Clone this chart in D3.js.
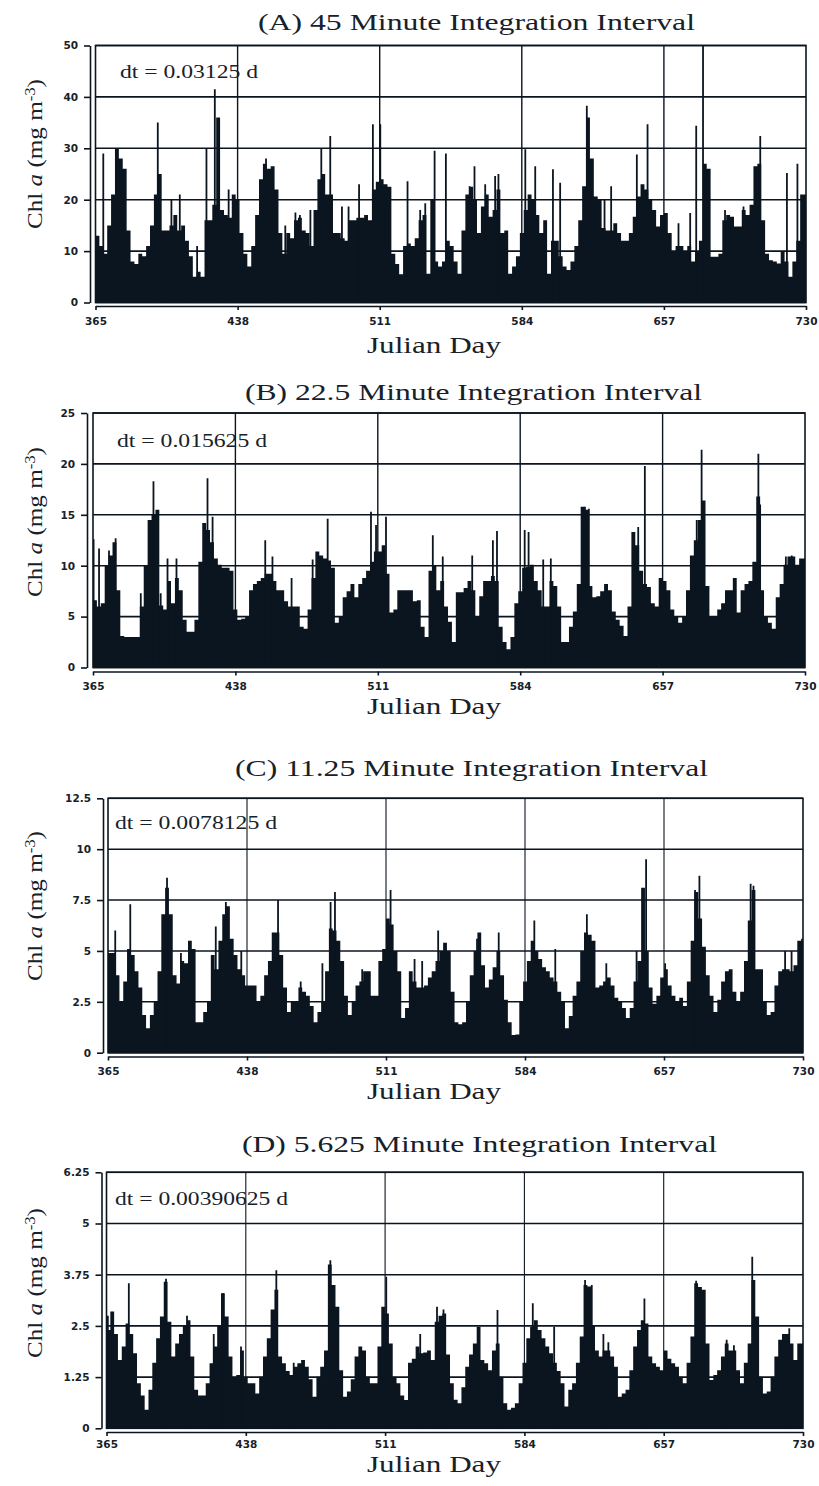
<!DOCTYPE html>
<html>
<head>
<meta charset="utf-8">
<script src="https://cdn.jsdelivr.net/npm/d3@7"></script>
<style>
  html, body { margin: 0; padding: 0; background: #fff; }
  svg { display: block; }
</style>
</head>
<body>
<svg id="chart" width="819" height="1486"></svg>
<script>
// ---------------- DATA ----------------
const xTicks = [365, 438, 511, 584, 657, 730];
const binStart = 365;   // first day of the step series
const binDays = 2;      // days per step

const yTicksA = [0, 10, 20, 30, 40, 50];
const yTicksB = [0, 5, 10, 15, 20, 25];
const yTicksC = [0, 2.5, 5, 7.5, 10, 12.5];
const yTicksD = [0, 1.25, 2.5, 3.75, 5, 6.25];

const titles = [
  "(A) 45 Minute Integration Interval",
  "(B) 22.5 Minute Integration Interval",
  "(C) 11.25 Minute Integration Interval",
  "(D) 5.625 Minute Integration Interval"
];
const dtLabels = ["dt = 0.03125 d", "dt = 0.015625 d", "dt = 0.0078125 d", "dt = 0.00390625 d"];

// Chl a (mg m-3), one value per 2-day step starting day 365
const chlA = [13,11,9.5,15,21,30,28,26,14,8,
  7.5,9.5,9,11,15,21,25,14,14,15,
  17,14,15,12,9,5,6,5,16,16,
  19,36,18,17,16.5,21,20,13.5,9.5,7,
  11,17,24,27,26,26.5,22,13.5,9.5,13.5,
  12.5,16,16.5,14,13.5,11,18,24,25,21,
  21,13.5,13.5,12.5,12,16,16,16.5,16.5,17,
  16,22,23.5,24,23,22.5,9.5,7.5,5.5,11,
  11.5,11,12.5,16,17,5.6,20,8,7,8,12,
  11,8,5.6,14,21,22.5,20,13.5,18.7,21,
  16.7,18,22,13.5,14,5.6,7,9,13.5,18,
  21,20,17,13.5,16,5.6,12,12,9,7,
  6.3,8,11,16,22.6,36,28,20.6,20,14.5,
  14,14,15.4,13.5,12,12,13.5,16.7,20.6,23,
  22,20,18,14.8,17,17.4,13.5,10,11,11,
  10,11,8,10,12,27,26,8.9,8.9,9.5,
  16,17,16.7,14.8,14.8,18,17,19,26.5,27,
  16,9.5,8.2,8,7.6,10,8,5,8,12,
  21,21];

const chlB = [6.6,6,6.3,10,11,12.3,7.6,3.1,3,3,
  3,3,6,10,14.5,15,15.5,6.1,5.7,8.5,
  6.3,8.8,7.6,4.7,3.5,3.5,4.7,10.4,14.2,13.5,
  12.3,10.7,10.1,9.8,9.8,9.5,5.7,4.7,4.8,5,
  7.6,8.2,8.5,8.8,9.2,9.2,8.5,7.6,7.6,6.5,
  6,6,6,4,3.8,5.7,8.8,11.4,11,10.7,
  10.5,9.8,4.4,5,6.9,7.5,8.2,6.9,8.2,8.8,
  9.5,10.4,11.4,11.4,12,9.2,5.4,5.7,7.6,7.6,
  7.6,7.6,6.5,6.6,4,3,9.5,10,7.6,8.5,6,
  4.5,2.5,7.4,7.4,7.8,8.5,7.6,5,7,8.5,
  8.5,9,8.5,4,2.5,1.8,3,6.3,7.5,9.8,
  9.9,10.1,8.5,7.6,6,6,8.5,8,6,2.5,
  2.5,4,5.5,8.2,15.8,15.5,8,6.9,7,7.5,
  8.2,7.6,5.5,4.7,4.1,3.1,6,13.3,12,9.5,
  8.2,7.9,6.3,6,8.8,8.5,7.6,5.7,5,4.4,
  5,7.6,11,12.5,14.5,16.4,8,5,5,5.7,
  6.3,7.6,7.6,8.8,5.4,7.6,8.2,8.5,10.4,16.8,
  7.6,5,4.4,3.8,6.9,8.2,10.1,10.9,10.9,10.1,
  10.7,10.7];

const chlC = [4.9,4.9,3.8,2.5,3.5,5.1,4.8,4,3.2,1.85,
  1.2,1.85,2.5,4,6.8,8.1,6.8,3.8,3.4,4.5,
  4.4,5.5,5.1,1.5,1.5,2,2.5,4.8,4.1,5.5,
  6.8,7.2,5.6,4.8,4.1,3.8,3.3,3.3,3.3,2.5,
  2.8,3.8,4.5,5.9,5.9,4.8,3.2,2,2.5,2.5,
  3.2,3,2.8,2.3,1.5,2,2.5,4,6.1,6,
  5.5,4.5,2.8,1.85,2.5,3.3,3.5,4,4,2.8,
  2.8,4.5,5.1,6.6,6.3,5,4,1.7,2.2,
  4,3.5,3.2,3.2,3.3,3.7,4,4.5,5,5.4,
  5,3,1.5,1.4,1.5,2.5,3.8,5,5.9,4.3,
  3.2,3.6,4.2,5,3.8,2.6,1.5,0.87,0.9,2.5,
  3.5,4.5,5.5,5,4.6,4.2,4,3.7,3.5,3,
  2.5,1.2,1.8,2.8,3.5,5,5.9,5.8,5.5,3.2,
  3.3,3.5,3.7,3.3,2.7,2.5,2.2,1.7,2.2,3.5,
  4.5,8.1,5,3.2,2.4,2.8,3.7,4.1,3.3,2.8,
  2.5,2.7,2.3,3.5,5.5,7.9,6.6,5.2,3.8,2.8,
  2,2.6,3.5,4,4.1,3,2.5,3,4.5,6.5,
  8,4.1,4.1,2.5,1.85,2,3.3,4,4.1,4.1,
  4,4.3,5.5,5.5];

const chlD = [2.4,2.85,2.3,1.67,2,2.56,2.3,1.83,1.1,0.8,
  0.45,0.94,1.6,2.2,2.73,3.58,2.6,1.75,2.07,2.3,
  2.5,2.64,1.75,0.94,0.8,0.8,1.1,1.59,2,2.5,
  3.3,2.73,1.75,1.26,1.3,1.9,1.26,1.1,1.1,0.85,
  1.26,1.75,2.2,2.9,3.38,1.75,1.59,1.4,1.3,1.5,
  1.59,1.67,1.5,1.2,0.77,1.26,1.5,1.9,4,3.5,
  2.97,1.42,0.77,0.9,1.2,1.75,2,1.9,1.26,1.1,
  1.1,2,2.97,2.8,2.07,1.26,1.1,0.8,0.69,
  1.6,1.7,2,1.83,1.85,1.9,1.67,2.6,2.75,2.8,
  1.8,1.1,0.7,0.61,1,1.5,1.8,2.07,2.48,1.67,
  1.59,1.42,1.9,2.07,1.26,0.61,0.45,0.5,0.61,1.1,
  1.6,2.2,2.48,2.64,2.4,2.2,2,1.83,1.6,1.4,
  1.1,0.53,0.94,1.1,1.6,2.24,3.5,3.46,2.5,1.9,
  1.75,1.9,1.9,1.75,1.5,0.77,0.85,0.94,1.42,2,
  2.4,2.64,2.56,1.75,1.59,1.5,1.42,1.9,1.7,1.59,
  1.5,1.26,1.1,1.6,2.24,3.54,3.45,3.38,2.07,1.18,
  1.3,1.42,1.75,2.07,1.9,1.9,1.42,1.1,1.6,2.07,
  3.62,2.73,1.26,0.85,0.9,1.26,1.75,2.16,2.3,2.3,
  2.07,1.67,2.07,2.07];

// short-lived spikes: [day, Chl a]
const spikesA = [[369,29],[397,35],[404,20],[408.3,21],[417.2,11],[422,30],[426.3,41.5],[433.4,22],[452.6,28],[462.5,15],[467.7,17.5],[470,17],[475.4,18],[481,30],[485.6,32.4],[491.6,18.7],[495,18.7],[500.4,23],[507.5,34.7],[511.3,34.7],[525.3,23.6],[531.8,18],[534.4,19.3],[539.2,29.5],[545,29],[557.2,22.6],[559.7,26.5],[565.2,23],[570.3,24.6],[572,25],[585.8,29.8],[590.9,26.5],[600,25.9],[603.7,23.3],[617.4,38.3],[626.5,20],[629.9,22.6],[643.1,28.8],[648.6,34.7],[664.5,15.4],[670.5,17.4],[673.6,34.4],[677.1,50],[688.4,18],[697.9,18.7],[706.5,32.4],[720.2,25.2],[725.6,27]];
const spikesB = [[365.3,12.6],[368.1,11.7],[373.2,11.5],[376.6,12.7],[389.5,7.3],[396,18.3],[399.7,7.3],[403.2,10.7],[407.8,10.7],[423.7,18.6],[426.3,14.8],[453.3,12.5],[457,10.9],[466.8,8.8],[477.6,10.6],[485.3,14.6],[507.5,15.3],[510.1,14],[515.2,14.8],[539.2,13],[544.3,10.9],[559.4,11],[570,12.5],[572.1,13.4],[586.3,13.5],[588.3,13.3],[595.8,10.6],[599.7,10.7],[617.2,15.8],[619.2,15.6],[644.5,13.8],[647.9,19.8],[674.5,14.5],[677,21.4],[706.1,21],[707,16],[720.2,10.9],[723.2,11]];
const spikesC = [[368.8,6],[376.7,7.3],[396,8.6],[403.3,4.9],[421.6,6.2],[426.9,7.4],[435,5],[454.3,7.5],[466.2,3.5],[477.6,4.4],[481.9,7.4],[484.2,7.9],[498.5,4.1],[513.4,8],[526,4.6],[530,4.5],[538.4,6],[558.8,5.6],[570.2,5.9],[588.9,6.5],[599.9,5.1],[616.5,6.8],[626.7,4.4],[642.6,5],[647.6,9.5],[657.6,4.4],[673.3,8],[675.6,8.7],[702.5,8.3],[704,8.2],[720.6,5],[724,5],[729.5,5.6]];
const spikesD = [[365.7,2.75],[376.7,3.54],[396.2,3.65],[407.2,2.75],[421.2,2.3],[426.1,3.3],[435.5,2],[454,3.86],[463.1,1.6],[482.3,4.1],[511.6,3.7],[529.4,2.3],[538.2,2.97],[541.6,2.9],[569.9,2.89],[588.4,3.05],[599.6,2.48],[615.8,3.62],[619.3,3.5],[625.4,2.3],[628,2.1],[646.9,3.17],[674,3.6],[690,2.16],[693.8,2.03],[703.4,4.19],[722.8,2.44]];

// ---------------- LAYOUT ----------------
const INK = "#0b1520";
const TEXT = "#17212a";
const layouts = [
  {L:95.5, R:806, T:45.5,  B:302.5,  axX:90,    axY:306,    pad:8, tX:258, tW:437, tY:30,   dX:120, dY:78,   dW:138, jY:353,  lY:154},
  {L:93,   R:805, T:413,   B:667.5,  axX:87,    axY:671.5,  pad:7, tX:245, tW:457, tY:400,  dX:117, dY:447,  dW:150, jY:714,  lY:522},
  {L:108,  R:803, T:798.3, B:1052.7, axX:103,   axY:1056.5, pad:7, tX:235, tW:473, tY:776,  dX:115, dY:829,  dW:162, jY:1099, lY:906},
  {L:106.5,R:803, T:1172.3,B:1428.3, axX:101.5, axY:1432,   pad:5, tX:242, tW:475, tY:1152, dX:115, dY:1205, dW:173, jY:1472, lY:1283}
];
const series = [chlA, chlB, chlC, chlD];
const spikes = [spikesA, spikesB, spikesC, spikesD];
const yTicks = [yTicksA, yTicksB, yTicksC, yTicksD];

const svg = d3.select("#chart");

layouts.forEach((lay, p) => {
  const g = svg.append("g");
  const ticks = yTicks[p];
  const yMax = ticks[ticks.length - 1];
  const x = d3.scaleLinear().domain([365, 730]).range([lay.L, lay.R]);
  const y = d3.scaleLinear().domain([0, yMax]).range([lay.B, lay.T]);

  const clipId = "clip" + p;
  g.append("clipPath").attr("id", clipId)
    .append("rect").attr("x", lay.L).attr("y", lay.T)
    .attr("width", lay.R - lay.L).attr("height", lay.B - lay.T);

  // grid
  const grid = g.append("g");
  grid.selectAll("line.h").data(ticks).join("line")
    .attr("x1", lay.L).attr("x2", lay.R)
    .attr("y1", d => y(d)).attr("y2", d => y(d))
    .attr("stroke", INK).attr("stroke-width", 1.6);
  grid.selectAll("line.v").data(xTicks.slice(1, -1)).join("line")
    .attr("x1", d => x(d)).attr("x2", d => x(d))
    .attr("y1", lay.T).attr("y2", lay.B)
    .attr("stroke", INK).attr("stroke-width", p >= 2 ? 1.1 : 1.4);

  // step series as a filled step area
  const vals = series[p];
  const pts = vals.map((v, i) => ({d: binStart + i * binDays, v}));
  pts.push({d: binStart + vals.length * binDays, v: vals[vals.length - 1]});
  const area = d3.area().curve(d3.curveStepAfter)
    .x(d => x(d.d)).y0(y(0)).y1(d => y(d.v));
  const body = g.append("g").attr("clip-path", `url(#${clipId})`);
  body.append("path").datum(pts).attr("d", area).attr("fill", INK);
  body.selectAll("line").data(spikes[p]).join("line")
    .attr("x1", d => x(d[0])).attr("x2", d => x(d[0]))
    .attr("y1", y(0)).attr("y2", d => y(d[1]))
    .attr("stroke", INK).attr("stroke-width", 1.8);

  // frame
  g.append("rect").attr("x", lay.L).attr("y", lay.T)
    .attr("width", lay.R - lay.L).attr("height", lay.B - lay.T)
    .attr("fill", "none").attr("stroke", INK).attr("stroke-width", 1.6);

  // axes
  const yAxis = d3.axisLeft(y).tickValues(ticks).tickSize(6).tickPadding(6).tickSizeOuter(0)
    .tickFormat(d => String(d));
  const ya = g.append("g").attr("transform", `translate(${lay.axX},0)`).call(yAxis);
  const xAxis = d3.axisBottom(x).tickValues(xTicks).tickSize(4).tickPadding(lay.pad).tickSizeOuter(0)
    .tickFormat(d => String(d));
  const xa = g.append("g").attr("transform", `translate(0,${lay.axY})`).call(xAxis);
  [ya, xa].forEach(a => {
    a.select(".domain").attr("stroke", INK).attr("stroke-width", 1.6);
    a.selectAll(".tick line").attr("stroke", INK).attr("stroke-width", 1.6);
    a.selectAll(".tick text").attr("fill", TEXT)
      .style("font-family", "'DejaVu Sans', sans-serif")
      .style("font-weight", "bold").style("font-size", "10.5px");
  });

  // title
  g.append("text").attr("x", lay.tX).attr("y", lay.tY)
    .attr("textLength", lay.tW).attr("lengthAdjust", "spacingAndGlyphs")
    .style("font-family", "'Liberation Serif', serif").style("font-size", "23px")
    .attr("fill", TEXT).text(titles[p]);

  // dt annotation
  g.append("text").attr("x", lay.dX).attr("y", lay.dY)
    .attr("textLength", lay.dW).attr("lengthAdjust", "spacingAndGlyphs")
    .style("font-family", "'Liberation Serif', serif").style("font-size", "18px")
    .attr("fill", TEXT).text(dtLabels[p]);

  // x label
  g.append("text").attr("x", 434).attr("y", lay.jY).attr("text-anchor", "middle")
    .attr("textLength", 134).attr("lengthAdjust", "spacingAndGlyphs")
    .style("font-family", "'Liberation Serif', serif").style("font-size", "23px")
    .attr("fill", TEXT).text("Julian Day");

  // y label
  const yl = g.append("text")
    .attr("transform", `translate(42,${lay.lY}) rotate(-90)`)
    .attr("text-anchor", "middle")
    .attr("textLength", 150).attr("lengthAdjust", "spacingAndGlyphs")
    .style("font-family", "'Liberation Serif', serif").style("font-size", "21px")
    .attr("fill", TEXT);
  yl.append("tspan").text("Chl ");
  yl.append("tspan").style("font-style", "italic").text("a");
  yl.append("tspan").text(" (mg m");
  yl.append("tspan").attr("baseline-shift", "super").style("font-size", "14px").text("-3");
  yl.append("tspan").text(")");
});
</script>
</body>
</html>
